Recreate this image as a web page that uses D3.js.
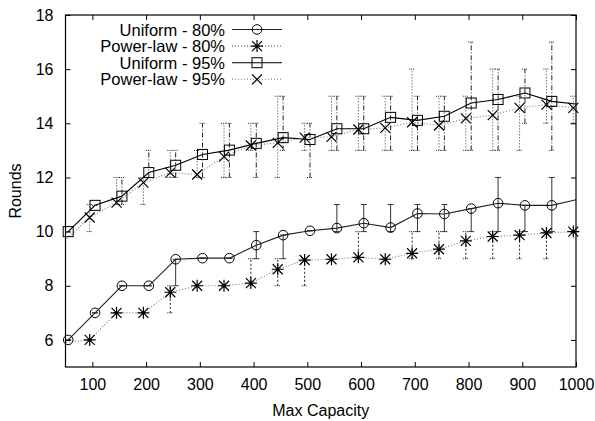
<!DOCTYPE html>
<html>
<head>
<meta charset="utf-8">
<script src="https://cdn.jsdelivr.net/npm/d3@7"></script>
<style>
  body { margin: 0; background: #fff; }
  text { font-family: "Liberation Sans", Arial, sans-serif; fill: #000; }
  .tick-label { font-size: 16px; }
  .axis-label { font-size: 16px; }
  .legend-label { font-size: 16.5px; }
</style>
</head>
<body>
<div id="chart"></div>
<script>
// Data (x = Max Capacity)
const capacities = [50, 100, 150, 200, 250, 300, 350, 400, 450, 500, 550, 600, 650, 700, 750, 800, 850, 900, 950, 1000];

const uniform80    = [6, 7, 8, 8, 8.98, 9.02, 9.02, 9.5, 9.87, 10.03, 10.13, 10.31, 10.15, 10.67, 10.65, 10.85, 11.05, 10.97, 10.97, 11.2];
const uniform80Lo  = [6, 7, 8, 8, 8, 9.02, 9.02, 9, 9, 10.03, 10, 10, 10, 10, 10, 10, 10, 10, 10, 11];
const uniform80Hi  = [6, 7, 8, 8, 8.98, 9.02, 9.02, 10, 9.87, 10.03, 11, 11, 11, 11, 11, 10.85, 12, 10.97, 12, 12];

const powerlaw80   = [5.9, 6, 7, 7, 7.76, 8, 8, 8.1, 8.61, 8.95, 8.98, 9.05, 8.98, 9.2, 9.35, 9.66, 9.82, 9.87, 9.95, 10];
const powerlaw80Lo = [5.9, 6, 7, 7, 7, 8, 8, 8, 8, 8, 8.98, 9, 8.98, 9, 9, 9, 9, 9, 9, 10];
const powerlaw80Hi = [5.9, 6, 7, 7, 8, 8, 8, 9, 9, 9, 8.98, 10, 8.98, 10, 10, 10, 10, 10, 10, 10];

const uniform95    = [10, 10.97, 11.31, 12.18, 12.45, 12.85, 13.01, 13.26, 13.47, 13.4, 13.8, 13.8, 14.22, 14.11, 14.26, 14.75, 14.88, 15.12, 14.81, 14.7];
const uniform95Lo  = [10, 10.97, 11, 12, 12, 12, 12, 12, 13, 12, 13, 13, 13, 13, 13, 13, 13, 14, 13, 14];
const uniform95Hi  = [10, 10.97, 12, 13, 13, 14, 14, 14, 15, 14, 15, 15, 15, 15, 15, 17, 16, 16, 17, 16];

const powerlaw95   = [9.6, 10.52, 11.07, 11.81, 12.18, 12.11, 12.77, 13.18, 13.28, 13.47, 13.5, 13.77, 13.83, 14.04, 13.92, 14.18, 14.3, 14.57, 14.69, 14.57];
const powerlaw95Lo = [9.6, 10, 11, 11, 12, 12, 12, 13, 12, 13, 13, 13, 13, 13, 13, 13, 13, 13, 14, 14];
const powerlaw95Hi = [9.6, 11, 12, 12, 13, 13, 14, 14, 15, 14, 15, 15, 15, 16, 15, 15, 16, 15, 16, 15];

const xTicks = [100, 200, 300, 400, 500, 600, 700, 800, 900, 1000];
const yTicks = [6, 8, 10, 12, 14, 16, 18];

// Setup: dimensions
const width = 595, height = 421;
const plot = { left: 65.5, right: 576, top: 15, bottom: 367 };

const xScale = d3.scaleLinear().domain([50, 1000]).range([plot.left, plot.right]);
const yScale = d3.scaleLinear().domain([5, 18]).range([plot.bottom, plot.top]);

// gnuplot-style offsets so the error bars do not overlap
const series = [
  { name: "Uniform - 80%",   y: uniform80,  lo: uniform80Lo,  hi: uniform80Hi,  dx: 5,  marker: "circle",
    line: "#222", lineDash: null, barDash: null, barColor: "#333" },
  { name: "Power-law - 80%", y: powerlaw80, lo: powerlaw80Lo, hi: powerlaw80Hi, dx: -5, marker: "asterisk",
    line: "#777", lineDash: "1,2", barDash: "2,2", barColor: "#222" },
  { name: "Uniform - 95%",   y: uniform95,  lo: uniform95Lo,  hi: uniform95Hi,  dx: 5,  marker: "square",
    line: "#000", lineDash: null, barDash: "5,2,1,2", barColor: "#222" },
  { name: "Power-law - 95%", y: powerlaw95, lo: powerlaw95Lo, hi: powerlaw95Hi, dx: -5, marker: "cross",
    line: "#777", lineDash: "1,2", barDash: "1,2", barColor: "#333" }
];

const svg = d3.select("#chart").append("svg")
  .attr("width", width)
  .attr("height", height);

svg.append("defs").append("clipPath").attr("id", "plot-clip")
  .append("rect")
  .attr("x", plot.left).attr("y", plot.top)
  .attr("width", plot.right - plot.left).attr("height", plot.bottom - plot.top);

// Draw a marker centred on (cx, cy)
function drawMarker(g, type, cx, cy) {
  const s = 5;
  if (type === "circle") {
    g.append("circle").attr("cx", cx).attr("cy", cy).attr("r", 4.8)
      .attr("fill", "none").attr("stroke", "#000").attr("stroke-width", 1);
  } else if (type === "square") {
    g.append("rect").attr("x", cx - s).attr("y", cy - s).attr("width", 2 * s).attr("height", 2 * s)
      .attr("fill", "none").attr("stroke", "#000").attr("stroke-width", 1);
  } else {
    const d = `M${cx - s},${cy - s}L${cx + s},${cy + s}M${cx - s},${cy + s}L${cx + s},${cy - s}` +
      (type === "asterisk" ? `M${cx},${cy - 6}L${cx},${cy + 6}M${cx - 6},${cy}L${cx + 6},${cy}` : "");
    g.append("path").attr("d", d).attr("fill", "none").attr("stroke", "#000").attr("stroke-width", 1.2);
  }
}

const plotArea = svg.append("g").attr("clip-path", "url(#plot-clip)");

// Error bars, lines, markers
series.forEach(s => {
  const data = capacities.map((c, i) => ({ x: c + s.dx, y: s.y[i], lo: s.lo[i], hi: s.hi[i] }));
  const inside = data.filter(d => d.x >= 50 && d.x <= 1000);

  const bars = plotArea.append("g");
  inside.forEach(d => {
    const px = xScale(d.x);
    bars.append("line")
      .attr("x1", px).attr("x2", px)
      .attr("y1", yScale(d.lo)).attr("y2", yScale(d.hi))
      .attr("stroke", s.barColor).attr("stroke-width", 1)
      .attr("stroke-dasharray", s.barDash);
    [d.lo, d.hi].forEach(v => {
      bars.append("line")
        .attr("x1", px - 3).attr("x2", px + 3)
        .attr("y1", yScale(v)).attr("y2", yScale(v))
        .attr("stroke", s.barColor).attr("stroke-width", 1)
        .attr("stroke-dasharray", s.barDash ? "1,1" : null);
    });
  });

  const line = d3.line().x(d => xScale(d.x)).y(d => yScale(d.y));
  plotArea.append("path")
    .datum(data)
    .attr("d", line)
    .attr("fill", "none")
    .attr("stroke", s.line)
    .attr("stroke-width", 1.1)
    .attr("stroke-dasharray", s.lineDash);

  const marks = svg.append("g");
  inside.forEach(d => drawMarker(marks, s.marker, xScale(d.x), yScale(d.y)));
});

// Frame
svg.append("rect")
  .attr("x", plot.left).attr("y", plot.top)
  .attr("width", plot.right - plot.left).attr("height", plot.bottom - plot.top)
  .attr("fill", "none").attr("stroke", "#000").attr("stroke-width", 1.2);

// Axes: inward ticks mirrored on all four sides
svg.append("g")
  .attr("transform", `translate(0, ${plot.bottom})`)
  .call(d3.axisBottom(xScale).tickValues(xTicks).tickFormat(d3.format("d"))
          .tickSizeInner(-5).tickSizeOuter(0).tickPadding(12))
  .call(g => g.select(".domain").remove())
  .call(g => g.selectAll("text").attr("class", "tick-label").attr("font-size", null).attr("font-family", null));

svg.append("g")
  .attr("transform", `translate(0, ${plot.top})`)
  .call(d3.axisTop(xScale).tickValues(xTicks).tickSizeInner(-5).tickSizeOuter(0).tickFormat(""))
  .call(g => g.select(".domain").remove());

svg.append("g")
  .attr("transform", `translate(${plot.left}, 0)`)
  .call(d3.axisLeft(yScale).tickValues(yTicks).tickSizeInner(-5).tickSizeOuter(0).tickPadding(12))
  .call(g => g.select(".domain").remove())
  .call(g => g.selectAll("text").attr("class", "tick-label").attr("font-size", null).attr("font-family", null));

svg.append("g")
  .attr("transform", `translate(${plot.right}, 0)`)
  .call(d3.axisRight(yScale).tickValues(yTicks).tickSizeInner(-5).tickSizeOuter(0).tickFormat(""))
  .call(g => g.select(".domain").remove());

// Axis labels
svg.append("text")
  .attr("class", "axis-label")
  .attr("x", (plot.left + plot.right) / 2)
  .attr("y", 416)
  .attr("text-anchor", "middle")
  .text("Max Capacity");

svg.append("text")
  .attr("class", "axis-label")
  .attr("transform", `translate(21, ${(plot.top + plot.bottom) / 2}) rotate(-90)`)
  .attr("text-anchor", "middle")
  .text("Rounds");

// Legend
const legend = svg.append("g");
series.forEach((s, i) => {
  const cy = 29.5 + i * 16.6;
  legend.append("text")
    .attr("class", "legend-label")
    .attr("x", 225)
    .attr("y", cy + 6)
    .attr("text-anchor", "end")
    .text(s.name);
  legend.append("line")
    .attr("x1", 232).attr("x2", 282)
    .attr("y1", cy).attr("y2", cy)
    .attr("stroke", s.line).attr("stroke-width", 1.1)
    .attr("stroke-dasharray", s.lineDash);
  drawMarker(legend, s.marker, 257, cy);
});
</script>
</body>
</html>
